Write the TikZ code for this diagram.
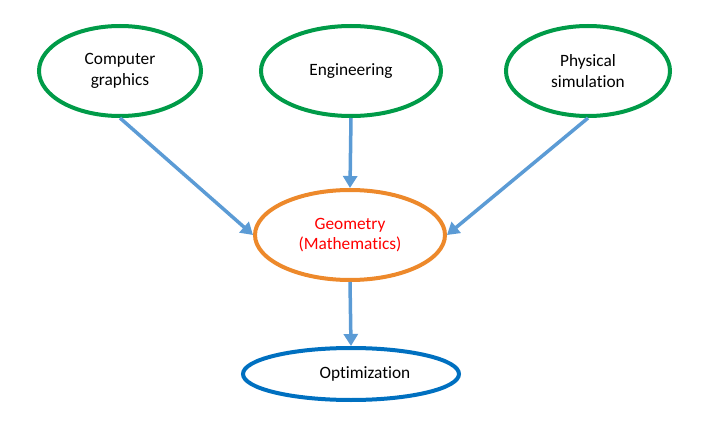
\documentclass[tikz,border=0pt]{standalone}
\usepackage{fontspec}
\setmainfont[Ligatures=NoCommon]{Carlito}
\usetikzlibrary{arrows.meta,shapes.geometric}
\definecolor{grn}{RGB}{0,155,72}
\definecolor{org}{RGB}{237,137,43}
\definecolor{blu}{RGB}{0,112,192}
\definecolor{arr}{RGB}{91,155,213}
\begin{document}
\begin{tikzpicture}[x=1pt,y=-1pt,
  every node/.style={font=\fontsize{17.3}{20.5}\selectfont, align=center},
  ell/.style={ellipse, line width=4pt, inner sep=0pt},
  conn/.style={draw=arr, line width=3.5pt, -{Triangle[length=12pt,width=14pt]}}]
\useasboundingbox (0,0) rectangle (705,428);
\node[ell, draw=grn, minimum width=162pt, minimum height=90pt] (cg) at (120,71) {Computer\\graphics};
\node[ell, draw=grn, minimum width=180pt, minimum height=90pt] (eng) at (351,71) {Engineering};
\node[ell, draw=grn, minimum width=164pt, minimum height=90pt] (phys) at (588,71) {Physical\\simulation};
\node[ell, draw=org, text=red, minimum width=190pt, minimum height=90pt] (geo) at (350,235) {Geometry\\(Mathematics)};
\node[ell, draw=blu, minimum width=216pt, minimum height=52pt] (opt) at (351,374) {};
\node (optt) at (365,374) {Optimization};
\draw[conn] (cg.south) -- (geo.west);
\draw[conn] (eng.south) -- (geo.north);
\draw[conn] (phys.south) -- (geo.east);
\draw[conn] (geo.south) -- (opt.north);
\end{tikzpicture}
\end{document}
